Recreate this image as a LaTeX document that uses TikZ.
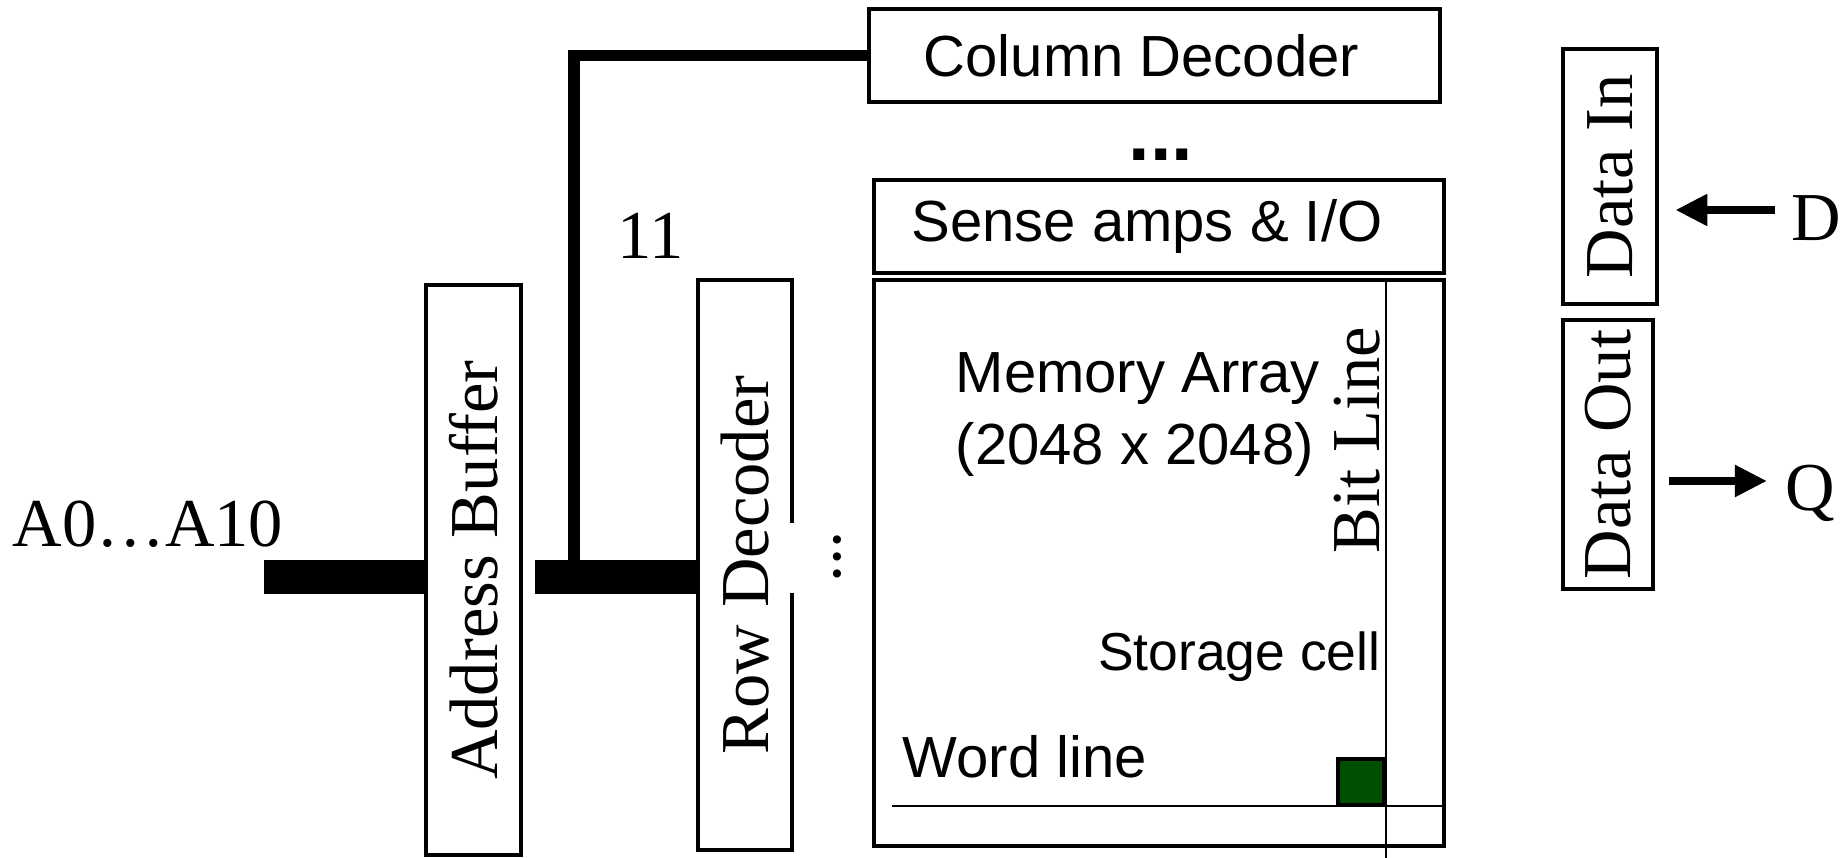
\documentclass[tikz,border=0pt]{standalone}
\usepackage{fontspec}
\setmainfont{Liberation Serif}
\setsansfont{Liberation Sans}
\usepackage{xcolor}
\definecolor{cellgreen}{HTML}{004F00}
\usetikzlibrary{arrows.meta, positioning, calc}
\newcommand{\serifsize}{\fontsize{19.5}{23}\selectfont}
\newcommand{\sanssize}{\fontsize{16.5}{20.5}\selectfont\sffamily}

\begin{document}
\begin{tikzpicture}[
        x=0.01cm, y=-0.01cm,
        font=\serifsize,
        block/.style={
            rectangle,
            draw,
            line width=1.3pt,
            inner sep=0pt,
            align=center
        },
        vtext/.style={rotate=90, font=\serifsize, inner sep=0pt},
        stext/.style={font=\sanssize, inner sep=0pt},
        bus/.style={line width=0.34cm},
        wire/.style={line width=0.11cm},
        gridline/.style={line width=0.6pt},
        arrow/.style={line width=2.5pt, -{Triangle[length=0.32cm, width=0.3cm]}}
    ]

    \useasboundingbox (0,0) rectangle (1847,858);

    % Column side
    \node[block, minimum width=5.71cm, minimum height=0.93cm, font=\sanssize] (coldec) at (1154.5,55.5) {Column Decoder\hspace{0.26cm}};
    \node[font=\fontsize{22}{22}\selectfont\sffamily\bfseries] (cdots) at (1161,155) {...};
    \node[block, minimum width=5.70cm, minimum height=0.93cm, font=\sanssize] (sense) at (1159,226.5) {Sense amps \& I/O\hspace{0.24cm}};

    % Memory array with one cell
    \node[block, minimum width=5.70cm, minimum height=5.66cm] (mem) at (1159,563) {};
    \node[stext, anchor=west, align=left] (memtext) at (955,415) {Memory Array\\(2048 x 2048)};
    \node[draw, line width=1.2pt, fill=cellgreen, minimum size=0.46cm, inner sep=0pt] (cell) at (1361,782) {};
    \draw[gridline] (mem.north -| cell.east) -- ([yshift=-3pt]mem.south -| cell.east);
    \coordinate (wlstart) at (892,806);
    \draw[gridline] (wlstart) -- (wlstart -| mem.east);
    \node[vtext] (bitlbl) at (1357,440) {Bit Line};
    \node[stext, anchor=east, font=\fontsize{15.2}{18}\selectfont\sffamily] (celllbl) at (1381,657) {Storage cell};
    \node[stext, anchor=west] (wllbl) at (902,757) {Word line};

    % Address path
    \node[block, minimum width=0.95cm, minimum height=5.70cm] (addrbuf) at (473.5,570) {\rotatebox{90}{Address Buffer}};
    \node[block, minimum width=0.94cm, minimum height=5.70cm] (rowdec) at (745,565) {\rotatebox{90}{Row Decoder}};
    \draw[white, line width=3pt] ($(rowdec.east)+(0,-42)$) -- ($(rowdec.east)+(0,28)$);
    \node[vtext] (rowdots) at (837,557) {...};
    \node[inner sep=0pt] (buswidth) at (651,236) {11};
    \node[inner sep=0pt] (addrin) at (148,524) {A0…A10};

    \coordinate (busin) at (264,577);
    \draw[bus] (busin) -- (busin -| addrbuf.west);
    \coordinate (busout) at (535,577);
    \draw[bus] (busout) -- (busout -| rowdec.west);
    \coordinate (tap) at (574,560);
    \draw[wire] (tap) |- (coldec.west);

    % Data in / out
    \node[block, minimum width=0.94cm, minimum height=2.55cm] (datain) at (1610,176.5) {\rotatebox{90}{Data In}};
    \node[block, minimum width=0.90cm, minimum height=2.69cm] (dataout) at (1608,454.5) {\rotatebox{90}{Data Out}};
    \node[anchor=west, inner sep=0pt] (dlbl) at (1791,218) {D};
    \node[anchor=west, inner sep=0pt] (qlbl) at (1785,493) {Q};

    \coordinate (dstart) at ([yshift=0.08cm]dlbl.west);
    \draw[arrow, shorten <=0.16cm, shorten >=0.16cm] (dstart) -- (dstart -| datain.east);
    \coordinate (qend) at ([yshift=0.12cm]qlbl.west);
    \draw[arrow, shorten <=0.14cm, shorten >=0.18cm] (qend -| dataout.east) -- (qend);

\end{tikzpicture}
\end{document}
